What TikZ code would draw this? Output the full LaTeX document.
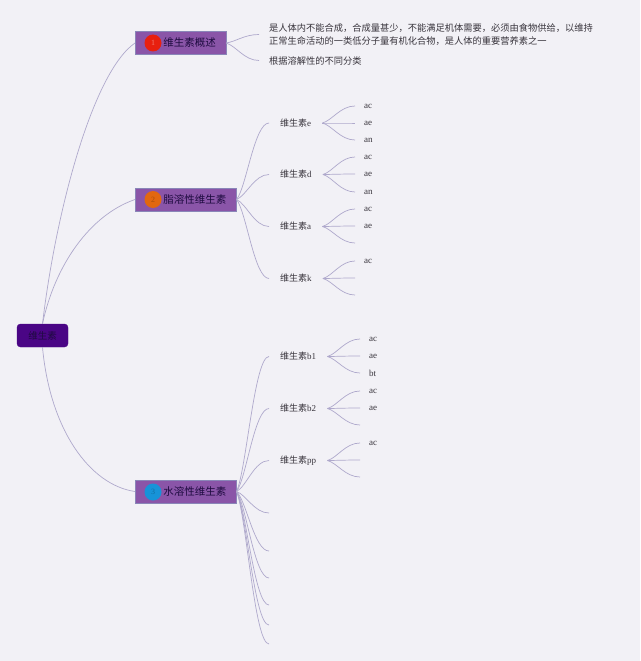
\documentclass[tikz,border=0pt]{standalone}
\usepackage{fontspec}
\setmainfont{Liberation Serif}
\newfontfamily\cjk{Noto Sans CJK SC}
\usetikzlibrary{calc}
\definecolor{bgc}{HTML}{F2F1F6}
\definecolor{linkc}{HTML}{AFA9CC}
\definecolor{topc}{HTML}{8A55A8}
\definecolor{topb}{HTML}{8A86B8}
\definecolor{rootc}{HTML}{4A0585}
\definecolor{inkc}{HTML}{38343C}
\definecolor{darkink}{HTML}{1E0B40}
\definecolor{badger}{HTML}{E8200F}
\definecolor{badgeo}{HTML}{E2670F}
\definecolor{badgeb}{HTML}{1793D8}
\tikzset{
  x=1pt,y=-1pt,
  link/.style={draw=linkc,line width=.7pt},
  topic/.style={draw=topb,line width=.5pt,fill=topc,anchor=west,minimum height=22.5pt,inner xsep=0pt,inner ysep=0pt,text=darkink,font=\fontsize{10.5}{12}\selectfont\cjk},
  badge/.style={circle,minimum size=17pt,inner sep=0pt,font=\fontsize{8}{9}\selectfont},
  sub/.style={anchor=west,inner xsep=11pt,inner ysep=1pt,text=inkc,font=\fontsize{9}{11}\selectfont},
  leaf/.style={anchor=west,inner xsep=9pt,inner ysep=1pt,text=inkc,font=\fontsize{9}{11}\selectfont},
  desc/.style={anchor=west,align=left,inner xsep=10pt,inner ysep=1pt,text=inkc,font=\fontsize{9.25}{13.5}\selectfont\cjk}
}
\newcommand{\lnk}[2]{\draw[link] let \p1=(#1), \p2=(#2) in (\p1) .. controls ({\x1+0.3*(\x2-\x1)},{\y1+0.15*(\y2-\y1)}) and ({\x1+0.55*(\x2-\x1)},\y2) .. (\p2);}
\newcommand{\toplabel}[1]{\hspace*{28pt}\raisebox{-1pt}{#1}\hspace*{10pt}}
\begin{document}
\begin{tikzpicture}
\fill[bgc] (0,0) rectangle (640,661);
\useasboundingbox (0,0) rectangle (640,661);
% root and main topics
\node[draw=rootc,fill=rootc,rounded corners=3.5pt,minimum width=51pt,minimum height=23pt,inner sep=0pt,text=darkink,font=\fontsize{9.5}{11}\selectfont\cjk] (root) at (42.5,335.5) {维生素};
\node[topic] (n1) at (135,43) {\toplabel{维生素概述}};
\node[topic] (n2) at (135,199.5) {\toplabel{脂溶性维生素}};
\node[topic] (n3) at (135,491.5) {\toplabel{水溶性维生素}};
\node[badge,fill=badger,text=badger!60!white] (b1) at (153,43) {1};
\node[badge,fill=badgeo,text=badgeo!75!black] (b2) at (153,199.5) {2};
\node[badge,fill=badgeb,text=badgeb!75!black] (b3) at (153,492) {3};
\draw[link] (root.north) .. controls (56,210) and (93,72) .. (n1.west);
\draw[link] (root.north) .. controls (55,265) and (90,215) .. (n2.west);
\draw[link] (root.south) .. controls (50,430) and (90,485) .. (n3.west);
% overview
\node[desc] (d1) at (259,34.5) {是人体内不能合成，合成量甚少，不能满足机体需要，必须由食物供给，以维持\\正常生命活动的一类低分子量有机化合物，是人体的重要营养素之一};
\node[desc] (d2) at (259,60.5) {根据溶解性的不同分类};
\lnk{n1.east}{d1.west}
\lnk{n1.east}{d2.west}
% fat-soluble
\node[sub] (se) at (269,123) {{\cjk 维生素}e};
\node[sub] (sd) at (269,174.5) {{\cjk 维生素}d};
\node[sub] (sa) at (269,226.5) {{\cjk 维生素}a};
\node[sub] (sk) at (269,278.5) {{\cjk 维生素}k};
\foreach \s in {se,sd,sa,sk}{\lnk{n2.east}{\s.west}}
\node[leaf] (e1) at (355,106) {ac};
\node[leaf] (e2) at (355,123) {ae};
\node[leaf] (e3) at (355,140) {an};
\node[leaf] (d1l) at (355,157) {ac};
\node[leaf] (d2l) at (355,174) {ae};
\node[leaf] (d3l) at (355,192) {an};
\node[leaf] (a1) at (355,209) {ac};
\node[leaf] (a2) at (355,226) {ae};
\coordinate (a3) at (355,243);
\node[leaf] (k1) at (355,261) {ac};
\coordinate (k2) at (355,278);
\coordinate (k3) at (355,295);
\foreach \t in {e1.west,e2.west,e3.west}{\lnk{se.east}{\t}}
\foreach \t in {d1l.west,d2l.west,d3l.west}{\lnk{sd.east}{\t}}
\foreach \t in {a1.west,a2.west,a3}{\lnk{sa.east}{\t}}
\foreach \t in {k1.west,k2,k3}{\lnk{sk.east}{\t}}
% water-soluble
\node[sub] (sb1) at (269,356.5) {{\cjk 维生素}b1};
\node[sub] (sb2) at (269,408.5) {{\cjk 维生素}b2};
\node[sub] (spp) at (269,460.5) {{\cjk 维生素}pp};
\foreach \s in {sb1,sb2,spp}{\lnk{n3.east}{\s.west}}
\node[leaf] (p1) at (360,339) {ac};
\node[leaf] (p2) at (360,356) {ae};
\node[leaf] (p3) at (360,373) {bt};
\node[leaf] (q1) at (360,391) {ac};
\node[leaf] (q2) at (360,408) {ae};
\coordinate (q3) at (360,425);
\node[leaf] (r1) at (360,443) {ac};
\coordinate (r2) at (360,460);
\coordinate (r3) at (360,477);
\foreach \t in {p1.west,p2.west,p3.west}{\lnk{sb1.east}{\t}}
\foreach \t in {q1.west,q2.west,q3}{\lnk{sb2.east}{\t}}
\foreach \t in {r1.west,r2,r3}{\lnk{spp.east}{\t}}
\coordinate (f1) at (269,513);
\coordinate (f2) at (269,551);
\coordinate (f3) at (269,578);
\coordinate (f4) at (269,605);
\coordinate (f5) at (269,625);
\coordinate (f6) at (269,644);
\foreach \t in {f1,f2,f3,f4,f5,f6}{\lnk{n3.east}{\t}}
\end{tikzpicture}
\end{document}
